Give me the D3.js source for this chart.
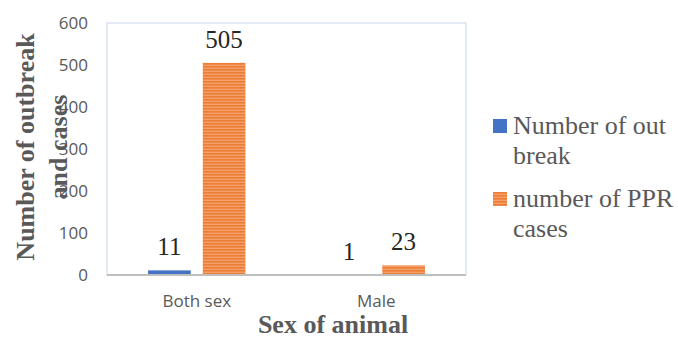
<!DOCTYPE html>
<html>
<head>
<meta charset="utf-8">
<script src="https://cdn.jsdelivr.net/npm/d3@7"></script>
<style>
  body { margin: 0; background: #fff; }
  svg { display: block; }
</style>
</head>
<body>
<div id="chart"></div>
<script>
const categories = ["Both sex", "Male"];
const seriesNames = ["Number of out break", "number of PPR cases"];
const outbreaks = [11, 1];
const cases = [505, 23];
const yTicks = [0, 100, 200, 300, 400, 500, 600];

const width = 678, height = 338;
const plot = { left: 107, right: 466, top: 23, bottom: 275 };

const svg = d3.select("#chart").append("svg")
  .attr("width", width)
  .attr("height", height);

// striped orange fill like the original
const defs = svg.append("defs");
const pat = defs.append("pattern")
  .attr("id", "stripes")
  .attr("patternUnits", "userSpaceOnUse")
  .attr("width", 4).attr("height", 3);
pat.append("rect").attr("width", 4).attr("height", 3).attr("fill", "#f2a070");
pat.append("rect").attr("width", 4).attr("height", 1.6).attr("fill", "#ed7d31");

const rows = categories.map((c, i) => ({ cat: c, values: [outbreaks[i], cases[i]] }));

const x = d3.scaleBand()
  .domain(categories)
  .range([plot.left, plot.right]);

const inner = d3.scaleBand()
  .domain([0, 1])
  .range([0, x.bandwidth()])
  .paddingInner(0.22)
  .paddingOuter(0.75);

const y = d3.scaleLinear()
  .domain([0, 600])
  .range([plot.bottom, plot.top]);

const colors = ["#4472c4", "url(#stripes)"];

// plot area border
svg.append("rect")
  .attr("x", plot.left).attr("y", plot.top)
  .attr("width", plot.right - plot.left)
  .attr("height", plot.bottom - plot.top)
  .attr("fill", "none")
  .attr("stroke", "#c5d5ee")
  .attr("stroke-width", 1);

// y axis labels
const yAxis = svg.append("g")
  .attr("transform", `translate(${plot.left - 19},0)`)
  .call(d3.axisLeft(y).tickValues(yTicks).tickSize(0).tickPadding(0));
yAxis.select(".domain").remove();
yAxis.selectAll("text")
  .attr("fill", "#595959")
  .style("font-family", "'Open Sans', sans-serif")
  .style("font-size", "17px");

// bars
const groups = svg.selectAll("g.group")
  .data(rows)
  .enter().append("g")
  .attr("class", "group")
  .attr("transform", d => `translate(${x(d.cat)},0)`);

groups.selectAll("rect")
  .data(d => d.values.map((v, i) => ({ v, i })))
  .enter().append("rect")
  .attr("x", d => inner(d.i))
  .attr("y", d => y(d.v))
  .attr("width", inner.bandwidth())
  .attr("height", d => y(0) - y(d.v))
  .attr("fill", d => colors[d.i]);

groups.selectAll("text.val")
  .data(d => d.values.map((v, i) => ({ v, i })))
  .enter().append("text")
  .attr("class", "val")
  .attr("x", d => inner(d.i) + inner.bandwidth() / 2)
  .attr("y", d => y(d.v) - 15)
  .attr("text-anchor", "middle")
  .attr("fill", "#262626")
  .style("font-family", "'Liberation Serif', serif")
  .style("font-size", "25px")
  .text(d => d.v);

// baseline
svg.append("line")
  .attr("x1", plot.left).attr("x2", plot.right)
  .attr("y1", y(0)).attr("y2", y(0))
  .attr("stroke", "#bfbfbf")
  .attr("stroke-width", 2);

// x axis labels
const xAxis = svg.append("g")
  .attr("transform", `translate(0,${plot.bottom})`)
  .call(d3.axisBottom(x).tickSize(0).tickPadding(20));
xAxis.select(".domain").remove();
xAxis.selectAll("text")
  .attr("fill", "#595959")
  .style("font-family", "'Open Sans', sans-serif")
  .style("font-size", "17px");

// axis titles
svg.append("text")
  .attr("x", 333).attr("y", 333)
  .attr("text-anchor", "middle")
  .attr("fill", "#595959")
  .style("font-family", "'Liberation Serif', serif")
  .style("font-weight", "bold")
  .style("font-size", "26px")
  .text("Sex of animal");

const yTitle = svg.append("text")
  .attr("transform", "translate(0,147) rotate(-90)")
  .attr("text-anchor", "middle")
  .attr("fill", "#595959")
  .style("font-family", "'Liberation Serif', serif")
  .style("font-weight", "bold")
  .style("font-size", "26px");
yTitle.append("tspan").attr("x", 0).attr("y", 34).text("Number of outbreak");
yTitle.append("tspan").attr("x", 0).attr("y", 67).text("and cases");

// legend
const legendLines = [["Number of out", "break"], ["number of PPR", "cases"]];
const legend = svg.selectAll("g.legend")
  .data(legendLines)
  .enter().append("g")
  .attr("class", "legend")
  .attr("transform", (d, i) => `translate(493,${119 + i * 73})`);

legend.append("rect")
  .attr("width", 14).attr("height", 14)
  .attr("fill", (d, i) => colors[i]);

legend.append("text")
  .attr("fill", "#595959")
  .style("font-family", "'Liberation Serif', serif")
  .style("font-size", "26px")
  .selectAll("tspan")
  .data(d => d)
  .enter().append("tspan")
  .attr("x", 20)
  .attr("y", (d, j) => 15 + j * 30)
  .text(d => d);
</script>
</body>
</html>
